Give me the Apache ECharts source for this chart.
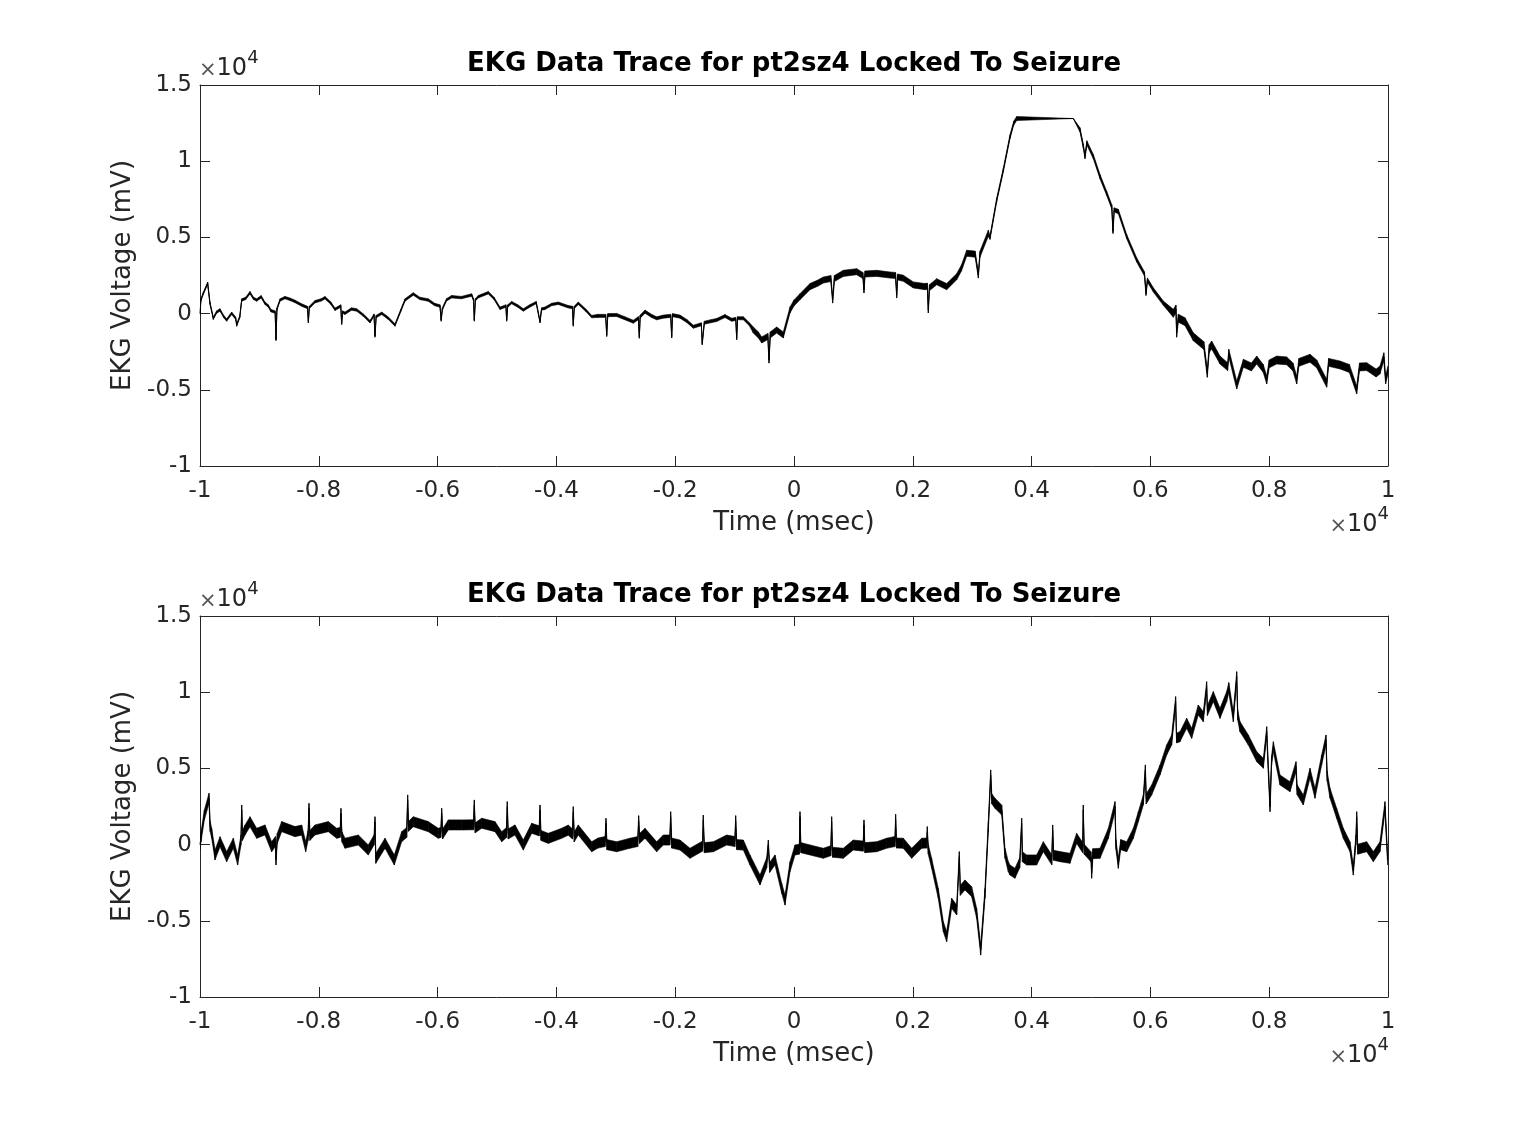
<!DOCTYPE html>
<html>
<head>
<meta charset="utf-8">
<script src="https://cdn.jsdelivr.net/npm/echarts@6/dist/echarts.min.js"></script>
<style>
html, body { margin: 0; padding: 0; background: #fff; }
#chartDiv { width: 1535px; height: 1121px; }
</style>
</head>
<body>
<div id="chartDiv"></div>
<script>
// 初始化图表
var myChart = echarts.init(document.getElementById('chartDiv'));
window.onresize = myChart.resize;

// 标题 / 坐标轴文字
var titleText = 'EKG Data Trace for pt2sz4 Locked To Seizure';
var xName = 'Time (msec)';
var yName = 'EKG Voltage (mV)';
var xTicks = [-10000, 10000, 2000];   // min, max, interval
var yTicks = [-10000, 15000, 5000];

// 上图 (msec, mV)
var traceTop = [
    [-10000, 0], [-9985, 900], [-9944, 1330], [-9871, 1990], [-9832, 680], [-9776, -310],
    [-9720, 100], [-9663, 240], [-9600, -200], [-9551, -420], [-9467, 20], [-9400, -300],
    [-9382, -750], [-9330, -200], [-9298, 890], [-9230, 1000], [-9158, 1370], [-9100, 1000],
    [-9046, 890], [-8970, 1100], [-8906, 680], [-8850, 500], [-8805, 190], [-8735, 100],
    [-8721, -1690], [-8705, 300], [-8653, 890], [-8570, 1050], [-8485, 940], [-8400, 800],
    [-8288, 560], [-8190, 400], [-8176, -530], [-8160, 400], [-8064, 780], [-7960, 900],
    [-7896, 1040], [-7800, 700], [-7727, 280], [-7630, 500], [-7615, -640], [-7600, 100],
    [-7559, 20], [-7450, 300], [-7362, 240], [-7250, -100], [-7138, -530], [-7070, -100],
    [-7054, -1470], [-7035, -200], [-6941, 20], [-6830, -300], [-6717, -750], [-6620, 200],
    [-6549, 890], [-6409, 1290], [-6300, 1000], [-6157, 890], [-6050, 600], [-5960, 500],
    [-5940, -420], [-5920, 300], [-5850, 900], [-5763, 1110], [-5600, 1050], [-5426, 1220],
    [-5395, 900], [-5382, -420], [-5365, 900], [-5315, 1110], [-5147, 1370], [-5050, 1000],
    [-4950, 350], [-4850, 500], [-4837, -420], [-4820, 500], [-4753, 720], [-4650, 500],
    [-4557, 240], [-4450, 500], [-4340, 720], [-4276, -530], [-4250, 300], [-4192, 350],
    [-4080, 600], [-3968, 680], [-3800, 450], [-3730, 400], [-3716, -750], [-3700, 400],
    [-3632, 680], [-3500, 200], [-3406, -200], [-3300, -150], [-3170, -150], [-3153, -1400],
    [-3135, -100], [-2985, -90], [-2850, -300], [-2705, -530], [-2620, -300], [-2604, -1520],
    [-2590, -200], [-2508, 130], [-2400, -150], [-2312, -310], [-2200, -200], [-2075, -150],
    [-2059, -1500], [-2045, -100], [-1919, -200], [-1800, -500], [-1695, -860], [-1560, -700],
    [-1545, -1950], [-1510, -600], [-1400, -500], [-1302, -420], [-1162, -160], [-1050, -400],
    [-980, -350], [-965, -1620], [-950, -300], [-853, -310], [-750, -700], [-685, -1080],
    [-600, -1400], [-544, -1730], [-440, -1500], [-421, -3050], [-400, -1400], [-292, -1080],
    [-180, -1400], [-67, 240], [0, 700], [101, 1110], [269, 1770], [400, 2000],
    [494, 2200], [620, 2300], [651, 890], [680, 2300], [830, 2640], [1055, 2750],
    [1160, 2500], [1178, 1550], [1195, 2600], [1392, 2640], [1616, 2530], [1710, 2500],
    [1729, 1220], [1745, 2400], [1840, 2320], [2009, 1880], [2205, 1770], [2245, 1800],
    [2261, 240], [2280, 1700], [2402, 2090], [2570, 1770], [2739, 2420], [2820, 3000],
    [2907, 3960], [3050, 3900], [3103, 2530], [3131, 3900], [3271, 5270], [3300, 5000],
    [3412, 7450], [3524, 9420], [3636, 11600], [3700, 12500], [3749, 12800], [4702, 12800],
    [4815, 12050], [4870, 11000], [4899, 10300], [4930, 11200], [5039, 10300], [5152, 8980],
    [5264, 7890], [5350, 7000], [5370, 5400], [5390, 6800], [5460, 6700], [5601, 5050],
    [5769, 3520], [5900, 2600], [5926, 1330], [5950, 2200], [6050, 1550], [6218, 680],
    [6386, 20], [6430, 300], [6442, -1290], [6470, -300], [6583, -530], [6722, -1520],
    [6900, -2100], [6958, -3920], [6990, -2300], [7031, -2060], [7172, -3050], [7300, -3480],
    [7320, -2600], [7453, -4690], [7565, -3260], [7700, -3500], [7790, -3050], [7900, -3600],
    [7958, -4360], [8000, -3300], [8126, -3050], [8294, -3100], [8400, -3500], [8463, -4360],
    [8500, -3200], [8687, -2930], [8800, -3300], [8968, -4570], [9000, -3200], [9192, -3370],
    [9350, -3600], [9473, -5010], [9520, -3500], [9641, -3480], [9800, -3900], [9865, -3700],
    [9930, -2830], [9960, -4360], [10000, -3700]
];

// 下图 (msec, mV)
var traceBottom = [
    [-10000, 0], [-9983, 500], [-9927, 1940], [-9848, 3040], [-9830, 1200], [-9803, 740],
    [-9747, -680], [-9663, 190], [-9551, -790], [-9439, 90], [-9366, -1010], [-9310, 300],
    [-9298, 2270], [-9285, 600], [-9242, 960], [-9158, 1500], [-9046, 740], [-8906, 960],
    [-8794, -140], [-8730, 200], [-8721, -1010], [-8700, 400], [-8625, 1180], [-8401, 850],
    [-8288, 950], [-8221, -140], [-8180, 600], [-8165, 2380], [-8150, 600], [-8064, 960],
    [-7840, 1180], [-7699, 740], [-7640, 800], [-7627, 2050], [-7610, 500], [-7559, 90],
    [-7335, 300], [-7167, -350], [-7070, 300], [-7054, 1500], [-7040, -900], [-6885, 90],
    [-6729, -1010], [-6605, 520], [-6520, 800], [-6504, 2930], [-6490, 1200], [-6409, 1500],
    [-6157, 1180], [-5989, 740], [-5945, 800], [-5931, 2050], [-5915, 700], [-5820, 1290],
    [-5595, 1290], [-5395, 1300], [-5382, 2600], [-5368, 1100], [-5258, 1400], [-5034, 1180],
    [-4921, 520], [-4840, 800], [-4827, 2490], [-4812, 700], [-4697, 960], [-4557, -30],
    [-4416, 1070], [-4290, 900], [-4276, 2270], [-4260, 600], [-4136, 410], [-3912, 740],
    [-3800, 950], [-3730, 700], [-3716, 2160], [-3700, 500], [-3632, 960], [-3406, -140],
    [-3300, 100], [-3180, 200], [-3165, 1400], [-3150, 0], [-2985, -140], [-2761, 90],
    [-2630, 200], [-2615, 1570], [-2600, 400], [-2508, 740], [-2312, -140], [-2200, 300],
    [-2090, 300], [-2076, 1830], [-2060, 100], [-1919, -30], [-1751, -570], [-1540, -100],
    [-1527, 1610], [-1510, -200], [-1358, -140], [-1133, 300], [-995, 200], [-982, 1570],
    [-965, 0], [-853, -30], [-741, -1010], [-572, -2320], [-460, -1200], [-432, -30],
    [-410, -1500], [-320, -1010], [-207, -2870], [-151, -3640], [-67, -1450], [17, -350],
    [90, -300], [101, 1830], [115, -200], [269, -350], [494, -570], [620, -400],
    [634, 1500], [648, -500], [830, -570], [998, -30], [1165, -100], [1178, 1290],
    [1192, -200], [1392, -140], [1560, 90], [1700, 200], [1711, 1660], [1725, 100],
    [1840, 90], [1981, -570], [2149, 90], [2235, 100], [2244, 850], [2260, -300],
    [2317, -1230], [2429, -3200], [2514, -5390], [2570, -6040], [2654, -3850], [2739, -4290],
    [2783, -790], [2800, -3000], [2878, -2650], [2991, -3090], [3075, -4510], [3143, -6920],
    [3215, -3200], [3271, 1180], [3311, 4570], [3330, 3000], [3384, 2710], [3497, 2270],
    [3552, -570], [3608, -1450], [3636, -1670], [3720, -1880], [3800, -1200], [3833, 1400],
    [3845, -800], [3917, -1010], [4085, -1010], [4197, -140], [4340, -1000], [4355, 960],
    [4370, -700], [4477, -790], [4646, -900], [4758, 410], [4860, -200], [4870, 2270],
    [4885, -300], [5000, -800], [5011, -1880], [5030, -600], [5152, -570], [5292, 740],
    [5404, 2490], [5420, 0], [5460, -1230], [5500, 0], [5601, -140], [5713, 740],
    [5797, 1830], [5881, 2930], [5915, 4900], [5930, 3000], [6021, 3580], [6162, 4900],
    [6274, 6210], [6358, 6860], [6425, 9380], [6440, 7000], [6498, 7080], [6611, 7960],
    [6695, 7300], [6806, 8830], [6891, 8390], [6947, 10360], [6960, 8800], [7059, 9710],
    [7172, 8610], [7284, 9710], [7320, 10300], [7396, 8390], [7453, 11020], [7470, 8500],
    [7508, 7740], [7649, 6860], [7790, 5770], [7902, 5340], [7958, 7410], [7990, 4500],
    [8014, 2490], [8040, 5500], [8070, 6420], [8182, 4240], [8350, 3800], [8451, 5110],
    [8470, 3600], [8574, 2930], [8687, 4680], [8771, 3370], [8883, 5550], [8956, 6860],
    [8975, 4500], [9024, 3370], [9136, 2050], [9248, 740], [9360, -140], [9416, -1670],
    [9460, 300], [9473, 1830], [9490, -300], [9641, -140], [9753, -790], [9865, -140],
    [9949, 2490], [9994, -1010]
];

// 噪声带半宽 (从该时刻起, mV)
var noiseTop = [[-10000, 80], [-3400, 100], [-700, 200], [3300, 130], [3750, 0], [4750, 140], [6300, 260]];
var noiseBottom = [[-10000, 330]];

// 版式
var FONT = 'DejaVu Sans';
var AXIS_COLOR = '#262626';
var grids = [
    {left: 200, top: 85, width: 1188, height: 381},
    {left: 200, top: 616, width: 1188, height: 381}
];

function tickFmt(v) {
    return String(+(v / 10000).toFixed(1));
}

function halfWidth(noise, t) {
    var w = 0;
    noise.forEach(function (seg) {
        if (t >= seg[0]) {
            w = seg[1];
        }
    });
    return w;
}

// 噪声带: 相邻两点之间画一个四边形
function renderBand(params, api) {
    var i = params.dataIndexInside;
    if (i + 1 >= params.dataInsideLength) {
        return;
    }
    var a0 = api.coord([api.value(0, i), api.value(1, i)]);
    var a1 = api.coord([api.value(0, i), api.value(2, i)]);
    var b0 = api.coord([api.value(0, i + 1), api.value(1, i + 1)]);
    var b1 = api.coord([api.value(0, i + 1), api.value(2, i + 1)]);
    return {
        type: 'polygon',
        shape: {points: [a0, b0, b1, a1]},
        style: {fill: '#000', stroke: '#000', lineWidth: 0.6}
    };
}

function makeX(gridIndex, pos) {
    var bottom = pos === 'bottom';
    return {
        type: 'value', gridIndex: gridIndex, position: pos,
        min: xTicks[0], max: xTicks[1], interval: xTicks[2],
        axisLine: {show: true, onZero: false, lineStyle: {color: AXIS_COLOR, width: 1}},
        axisTick: {show: true, inside: true, length: 10, lineStyle: {color: AXIS_COLOR, width: 1}},
        axisLabel: {show: bottom, formatter: tickFmt, fontFamily: FONT, fontSize: 23, color: AXIS_COLOR, margin: 14},
        splitLine: {show: false},
        name: bottom ? xName : '', nameLocation: 'middle', nameGap: 44,
        nameTextStyle: {fontFamily: FONT, fontSize: 26, color: AXIS_COLOR}
    };
}

function makeY(gridIndex, pos) {
    var left = pos === 'left';
    return {
        type: 'value', gridIndex: gridIndex, position: pos,
        min: yTicks[0], max: yTicks[1], interval: yTicks[2],
        axisLine: {show: true, onZero: false, lineStyle: {color: AXIS_COLOR, width: 1}},
        axisTick: {show: true, inside: true, length: 10, lineStyle: {color: AXIS_COLOR, width: 1}},
        axisLabel: {show: left, formatter: tickFmt, fontFamily: FONT, fontSize: 23, color: AXIS_COLOR, margin: 8},
        splitLine: {show: false},
        name: left ? yName : '', nameLocation: 'middle', nameGap: 50,
        nameTextStyle: {fontFamily: FONT, fontSize: 26, color: AXIS_COLOR}
    };
}

// ×10^4 富文本
var expRich = {
    x: {fontFamily: FONT, fontSize: 21, fontWeight: 'normal', color: '#555', verticalAlign: 'bottom'},
    n: {fontFamily: FONT, fontSize: 24, fontWeight: 'normal', color: AXIS_COLOR, verticalAlign: 'bottom'},
    s: {fontFamily: FONT, fontSize: 18, fontWeight: 'normal', color: AXIS_COLOR, verticalAlign: 'top'}
};
var expText = '{x|×}{n|10}{s|4}';

var titles = [];
var xAxes = [];
var yAxes = [];
var series = [];
var traces = [traceTop, traceBottom];
var noises = [noiseTop, noiseBottom];
grids.forEach(function (g, i) {
    var dy = g.top - grids[0].top;
    titles.push({
        text: titleText, left: g.left + g.width / 2, textAlign: 'center', top: 51 + dy, padding: 0,
        textStyle: {fontFamily: FONT, fontSize: 26, fontWeight: 'bold', color: '#000'}
    });
    titles.push({
        text: expText, left: 199, top: 49 + dy, padding: 0,
        textStyle: {fontWeight: 'normal', lineHeight: 32, rich: expRich}
    });
    titles.push({
        text: expText, right: 146, top: 505 + dy, padding: 0,
        textStyle: {fontWeight: 'normal', lineHeight: 32, rich: expRich}
    });
    xAxes.push(makeX(i, 'bottom'), makeX(i, 'top'));
    yAxes.push(makeY(i, 'left'), makeY(i, 'right'));

    var band = traces[i].map(function (p) {
        var w = halfWidth(noises[i], p[0]);
        return [p[0], p[1] - w, p[1] + w];
    });
    series.push({
        type: 'custom', xAxisIndex: i * 2, yAxisIndex: i * 2,
        data: band, encode: {x: 0, y: [1, 2]},
        renderItem: renderBand, clip: true, silent: true
    });
    series.push({
        type: 'line', xAxisIndex: i * 2, yAxisIndex: i * 2,
        data: traces[i], showSymbol: false, symbol: 'none',
        lineStyle: {color: '#000', width: 1}, silent: true
    });
});

var option = {
    backgroundColor: '#fff',
    animation: false,
    title: titles,
    grid: grids,
    xAxis: xAxes,
    yAxis: yAxes,
    series: series
};
myChart.setOption(option);
</script>
</body>
</html>
